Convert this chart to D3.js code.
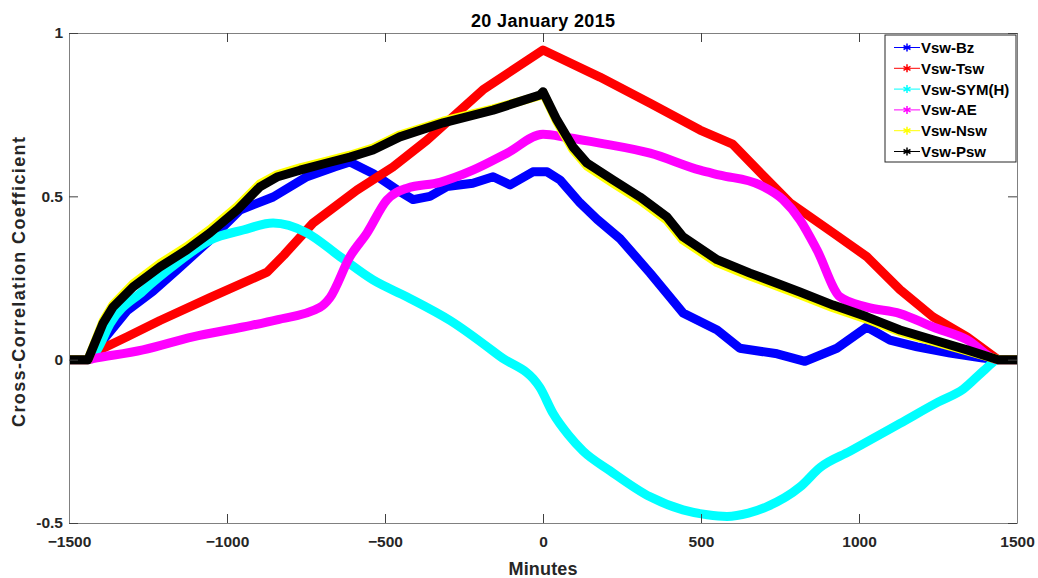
<!DOCTYPE html>
<html>
<head>
<meta charset="utf-8">
<script src="https://cdn.jsdelivr.net/npm/d3@7"></script>
<style>
  body { margin: 0; background: #fff; }
  text { font-family: "Liberation Sans", Arial, sans-serif; }
</style>
</head>
<body>
<script>
// lags (minutes) and coefficients
const lagBz = [-1500, -1440, -1411, -1392, -1316, -1234, -1158, -1054, -959, -854, -747, -660, -611, -538, -462, -411, -358, -304, -222, -158, -104, -32, 13, 54, 117, 171, 244, 339, 443, 551, 623, 741, 829, 930, 1025, 1098, 1184, 1288, 1392, 1440, 1500];
const valBz = [0, 0, 0.035, 0.06, 0.15, 0.21, 0.275, 0.366, 0.458, 0.498, 0.56, 0.59, 0.605, 0.57, 0.52, 0.49, 0.50, 0.53, 0.54, 0.56, 0.535, 0.575, 0.575, 0.55, 0.48, 0.43, 0.37, 0.265, 0.143, 0.091, 0.035, 0.018, -0.005, 0.035, 0.10, 0.06, 0.039, 0.02, 0.005, 0, 0];

const lagTsw = [-1500, -1440, -1424, -1316, -1212, -1054, -873, -820, -728, -589, -475, -367, -190, 0, 180, 339, 497, 600, 700, 782, 918, 1025, 1130, 1234, 1342, 1440, 1500];
const valTsw = [0, 0, 0.02, 0.07, 0.12, 0.19, 0.268, 0.32, 0.418, 0.519, 0.59, 0.672, 0.826, 0.948, 0.865, 0.785, 0.703, 0.66, 0.56, 0.48, 0.388, 0.315, 0.214, 0.131, 0.07, 0, 0];

const lagSym = [-1500, -1440, -1411, -1370, -1266, -1158, -1054, -949, -854, -747, -642, -538, -430, -294, -136, -10, 32, 80, 127, 212, 339, 443, 520, 582, 650, 709, 813, 877, 972, 1130, 1250, 1330, 1399, 1440, 1500];
const valSym = [0, 0, 0.03, 0.11, 0.21, 0.296, 0.366, 0.397, 0.418, 0.388, 0.315, 0.244, 0.192, 0.12, 0.01, -0.085, -0.165, -0.23, -0.28, -0.34, -0.42, -0.46, -0.475, -0.48, -0.47, -0.45, -0.39, -0.33, -0.28, -0.195, -0.13, -0.09, -0.03, 0, 0];

const lagAe = [-1500, -1440, -1424, -1266, -1108, -949, -842, -706, -674, -611, -557, -494, -430, -326, -222, -114, 0, 76, 180, 339, 497, 560, 686, 759, 813, 867, 940, 1025, 1130, 1234, 1342, 1440, 1500];
const valAe = [0, 0, 0.003, 0.03, 0.07, 0.10, 0.122, 0.16, 0.19, 0.315, 0.388, 0.489, 0.525, 0.543, 0.58, 0.632, 0.69, 0.68, 0.663, 0.632, 0.58, 0.565, 0.535, 0.49, 0.428, 0.336, 0.192, 0.161, 0.141, 0.10, 0.061, 0, 0];

const lagNsw = [-1500, -1440, -1392, -1361, -1297, -1212, -1127, -1054, -968, -896, -842, -769, -684, -611, -538, -453, -316, -158, -10, 0, 44, 95, 139, 222, 307, 392, 443, 551, 655, 813, 918, 1025, 1130, 1234, 1342, 1440, 1500];
const valNsw = [0, 0, 0.118, 0.168, 0.232, 0.294, 0.346, 0.398, 0.468, 0.538, 0.566, 0.587, 0.608, 0.626, 0.648, 0.688, 0.73, 0.768, 0.808, 0.818, 0.728, 0.643, 0.593, 0.54, 0.488, 0.427, 0.366, 0.297, 0.256, 0.199, 0.159, 0.124, 0.085, 0.056, 0.027, 0, 0];

const lagPsw = [-1500, -1440, -1392, -1361, -1297, -1212, -1127, -1054, -968, -896, -842, -769, -684, -611, -538, -453, -316, -158, -10, 0, 44, 95, 139, 222, 307, 392, 443, 551, 655, 813, 918, 1025, 1130, 1234, 1342, 1440, 1500];
const valPsw = [0, 0, 0.112, 0.161, 0.223, 0.284, 0.336, 0.388, 0.458, 0.529, 0.559, 0.58, 0.602, 0.62, 0.642, 0.682, 0.725, 0.764, 0.81, 0.82, 0.734, 0.651, 0.602, 0.55, 0.498, 0.437, 0.376, 0.306, 0.265, 0.207, 0.167, 0.131, 0.091, 0.061, 0.03, 0, 0];

const seriesNames = ["Vsw-Bz", "Vsw-Tsw", "Vsw-SYM(H)", "Vsw-AE", "Vsw-Nsw", "Vsw-Psw"];
const seriesColors = ["#0000ff", "#ff0000", "#00ffff", "#ff00ff", "#ffff00", "#000000"];
const seriesLags = [lagBz, lagTsw, lagSym, lagAe, lagNsw, lagPsw];
const seriesVals = [valBz, valTsw, valSym, valAe, valNsw, valPsw];
// cyan and magenta are drawn smooth, the others keep their corners
const seriesSmooth = [false, false, true, true, false, false];

const xTicks = [-1500, -1000, -500, 0, 500, 1000, 1500];
const yTicks = [-0.5, 0, 0.5, 1];

const W = 1038, H = 578;
const m = { left: 69, right: 21, top: 33, bottom: 55 };

const svg = d3.select("body").append("svg")
  .attr("width", W).attr("height", H);

const x = d3.scaleLinear().domain([-1500, 1500]).range([m.left, W - m.right]);
const y = d3.scaleLinear().domain([-0.5, 1]).range([H - m.bottom, m.top]);

// curves
const plot = svg.append("g");
seriesNames.forEach((name, i) => {
  const pts = seriesLags[i].map((l, j) => [l, seriesVals[i][j]]);
  const line = d3.line()
    .x(d => x(d[0]))
    .y(d => y(d[1]))
    .curve(seriesSmooth[i] ? d3.curveMonotoneX : d3.curveLinear);
  plot.append("path")
    .datum(pts)
    .attr("d", line)
    .attr("fill", "none")
    .attr("stroke", seriesColors[i])
    .attr("stroke-width", 9)
    .attr("stroke-linejoin", "round")
    .attr("stroke-linecap", "butt");
});

// axes, MATLAB style: ticks inward, box around
const axisStyle = g => {
  g.selectAll(".domain").attr("stroke", "#808080");
  g.selectAll(".tick line").attr("stroke", "#404040");
  g.selectAll(".tick text")
    .attr("fill", "#262626")
    .style("font-size", "15.5px")
    .style("font-weight", "bold");
};

svg.append("g")
  .attr("transform", `translate(0,${H - m.bottom})`)
  .call(d3.axisBottom(x).tickValues(xTicks).tickSize(-9).tickSizeOuter(0).tickPadding(13).tickFormat(d3.format("d")))
  .call(axisStyle);
svg.append("g")
  .attr("transform", `translate(0,${m.top})`)
  .call(d3.axisTop(x).tickValues(xTicks).tickSize(-9).tickSizeOuter(0).tickFormat(""))
  .call(axisStyle);
svg.append("g")
  .attr("transform", `translate(${m.left},0)`)
  .call(d3.axisLeft(y).tickValues(yTicks).tickSize(-9).tickSizeOuter(0).tickPadding(6).tickFormat(d => d))
  .call(axisStyle);
svg.append("g")
  .attr("transform", `translate(${W - m.right},0)`)
  .call(d3.axisRight(y).tickValues(yTicks).tickSize(-9).tickSizeOuter(0).tickFormat(""))
  .call(axisStyle);

// texts
svg.append("text")
  .attr("x", 543).attr("y", 27)
  .attr("text-anchor", "middle")
  .attr("textLength", 144).attr("lengthAdjust", "spacing")
  .style("font-size", "18px").style("font-weight", "bold")
  .attr("fill", "#000")
  .text("20 January 2015");

svg.append("text")
  .attr("x", 543).attr("y", 575)
  .attr("text-anchor", "middle")
  .attr("textLength", 69).attr("lengthAdjust", "spacing")
  .style("font-size", "18px").style("font-weight", "bold")
  .attr("fill", "#262626")
  .text("Minutes");

svg.append("text")
  .attr("transform", "translate(25,282) rotate(-90)")
  .attr("text-anchor", "middle")
  .attr("textLength", 290).attr("lengthAdjust", "spacing")
  .style("font-size", "18px").style("font-weight", "bold")
  .attr("fill", "#262626")
  .text("Cross-Correlation Coefficient");

// legend
const legend = svg.append("g").attr("transform", "translate(885,35)");
legend.append("rect")
  .attr("width", 131).attr("height", 127)
  .attr("fill", "#fff").attr("stroke", "#262626").attr("stroke-width", 1);

const star = d3.symbol().type(d3.symbolAsterisk).size(45);
seriesNames.forEach((name, i) => {
  const row = legend.append("g").attr("transform", `translate(0,${12.5 + i * 20.8})`);
  row.append("line")
    .attr("x1", 9).attr("x2", 35).attr("y1", 0).attr("y2", 0)
    .attr("stroke", seriesColors[i]).attr("stroke-width", 1);
  row.append("path")
    .attr("d", star())
    .attr("transform", "translate(22,0)")
    .attr("fill", "none")
    .attr("stroke", seriesColors[i]).attr("stroke-width", 1.5);
  row.append("text")
    .attr("x", 36).attr("y", 5.5)
    .style("font-size", "15px").style("font-weight", "bold")
    .attr("fill", "#000")
    .text(name);
});
</script>
</body>
</html>
